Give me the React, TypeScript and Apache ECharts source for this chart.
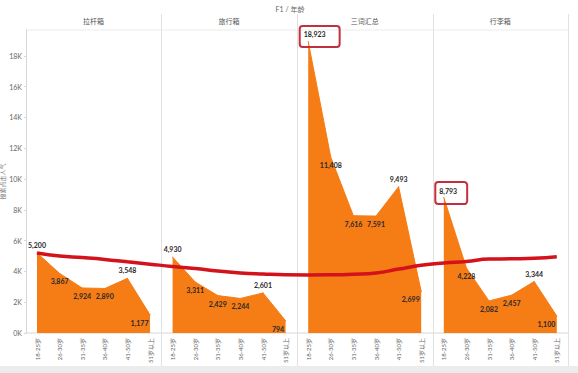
import React, { useEffect, useRef } from "react";
import * as echarts from "echarts";

const ageGroups = ["18-25岁", "26-30岁", "31-35岁", "36-40岁", "41-50岁", "51岁以上"];
const panelNames = ["拉杆箱", "旅行箱", "三词汇总", "行李箱"];
const laganxiang = [5200, 3867, 2924, 2890, 3548, 1177];
const lvxingxiang = [4930, 3311, 2429, 2244, 2601, 794];
const sanciHuizong = [18923, 11408, 7616, 7591, 9493, 2699];
const xinglixiang = [8793, 4228, 2082, 2457, 3344, 1100];
const panelValues = [laganxiang, lvxingxiang, sanciHuizong, xinglixiang];
// smooth red trend line, one value per age group across the four panels
const trendValues = [
  5200, 5000, 4900, 4780, 4620, 4470,
  4320, 4190, 4020, 3900, 3830, 3780,
  3770, 3780, 3820, 3900, 4150, 4400,
  4550, 4650, 4800, 4820, 4850, 4950,
];
const yMaxValue = 19675;
const yInterval = 2000;
const yAxisName = "搜索点击人气";
const chartTitle = "F1 / 年龄";
// [panel, age index] of the values outlined with a red box
const boxedPoints = [[2, 0], [3, 0]];

const W = 578;
const H = 373;
const X0 = 37;
const STEP = 22.6;
const TOP = 30;
const PLOT_H = 303;
const ORANGE = "#F67C15";
const FONT = "Lato, 'Noto Sans CJK SC', sans-serif";

export default function App() {
  const ref = useRef<HTMLDivElement>(null);
  useEffect(() => {
    if (!ref.current) return;
    const chart = echarts.init(ref.current, undefined, { renderer: "svg" });
    const grids: any[] = [];
    const xAxes: any[] = [];
    const yAxes: any[] = [];
    const series: any[] = [];

    panelValues.forEach((vals, p) => {
      grids.push({
        left: X0 + 6 * p * STEP,
        width: 5 * STEP,
        top: TOP,
        height: PLOT_H,
        outerBoundsMode: "none",
        containLabel: false,
      });
      xAxes.push({
        type: "category",
        gridIndex: p,
        data: ageGroups,
        boundaryGap: false,
        axisLine: { show: false },
        axisTick: { show: false },
        axisLabel: {
          rotate: 90,
          interval: 0,
          fontSize: 6,
          color: "#666",
          margin: 5,
          fontFamily: FONT,
        },
      });
      yAxes.push({
        type: "value",
        gridIndex: p,
        min: 0,
        max: yMaxValue,
        interval: yInterval,
        show: p === 0,
        offset: 11,
        name: p === 0 ? yAxisName : "",
        nameLocation: "middle",
        nameGap: 20,
        nameTextStyle: { fontSize: 6, color: "#777", fontFamily: FONT },
        axisLine: { show: true, lineStyle: { color: "#d6d6d6" } },
        axisTick: { show: true, length: 2, lineStyle: { color: "#d6d6d6" } },
        splitLine: { show: false },
        axisLabel: {
          fontSize: 7,
          color: "#666",
          margin: 4,
          showMaxLabel: false,
          fontFamily: FONT,
          formatter: (v: number) => v / 1000 + "K",
        },
      });
      const data = vals.map((v, i) => {
        const prev = i > 0 ? vals[i - 1] : -Infinity;
        const next = i < vals.length - 1 ? vals[i + 1] : -Infinity;
        const isPeak = v >= prev && v >= next;
        const boxed = boxedPoints.some(([bp, bi]) => bp === p && bi === i);
        const label: any = { position: isPeak ? "top" : "bottom" };
        if (i === vals.length - 1) {
          label.position = "left";
          label.distance = 1;
          label.offset = [0, 8];
        }
        if (boxed) {
          Object.assign(label, {
            position: [-8, -15],
            borderColor: "#C2303F",
            borderWidth: 2,
            borderRadius: 3,
            padding: p === 2 ? [4, 14, 10, 4] : [5, 10, 10, 4],
          });
        }
        return { value: v, label };
      });
      series.push({
        type: "line",
        xAxisIndex: p,
        yAxisIndex: p,
        data,
        symbol: "circle",
        symbolSize: 1,
        showSymbol: true,
        itemStyle: { color: ORANGE },
        lineStyle: { color: ORANGE, width: 1 },
        areaStyle: { color: ORANGE, opacity: 1 },
        label: {
          show: true,
          fontSize: 7,
          fontWeight: "bold",
          color: "#2a2a2a",
          distance: 4,
          fontFamily: FONT,
          formatter: (prm: any) => Number(prm.value).toLocaleString("en-US"),
        },
        z: 2,
      });
    });

    // overlay grid for the trend line spanning all panels
    grids.push({
      left: X0,
      width: 23 * STEP,
      top: TOP,
      height: PLOT_H,
      outerBoundsMode: "none",
      containLabel: false,
    });
    xAxes.push({
      type: "category",
      gridIndex: 4,
      data: trendValues.map((_, i) => String(i)),
      boundaryGap: false,
      show: false,
    });
    yAxes.push({
      type: "value",
      gridIndex: 4,
      min: 0,
      max: yMaxValue,
      show: false,
      splitLine: { show: false },
    });
    series.push({
      type: "line",
      xAxisIndex: 4,
      yAxisIndex: 4,
      data: trendValues,
      smooth: true,
      showSymbol: false,
      symbol: "none",
      lineStyle: { color: "#D3121C", width: 3.5 },
      z: 5,
    });

    const graphics: any[] = [];
    graphics.push({
      type: "rect",
      shape: { x: 0, y: 366, width: W, height: H - 366 },
      style: { fill: "#ececec" },
      silent: true,
    });
    graphics.push({
      type: "text",
      x: 290,
      y: 9,
      style: {
        text: chartTitle,
        fontSize: 7,
        fill: "#666",
        align: "center",
        verticalAlign: "middle",
        fontFamily: FONT,
      },
    });
    graphics.push({
      type: "line",
      shape: { x1: X0 - 0.5 * STEP, y1: TOP, x2: X0 + 23.5 * STEP, y2: TOP },
      style: { stroke: "#ececec", lineWidth: 1 },
    });
    graphics.push({
      type: "line",
      shape: { x1: X0 - 0.5 * STEP, y1: TOP + PLOT_H, x2: X0 + 23.5 * STEP, y2: TOP + PLOT_H },
      style: { stroke: "#d6d6d6", lineWidth: 1 },
    });
    for (let p = 1; p <= 4; p++) {
      const x = Math.round(X0 + (6 * p - 0.5) * STEP) + 0.5;
      graphics.push({
        type: "line",
        shape: { x1: x, y1: 14, x2: x, y2: 366 },
        style: { stroke: "#e2e2e2", lineWidth: 1 },
      });
    }
    panelNames.forEach((name, p) => {
      graphics.push({
        type: "text",
        x: X0 + (6 * p + 2.5) * STEP,
        y: 21,
        style: {
          text: name,
          fontSize: 7,
          fill: "#555",
          align: "center",
          verticalAlign: "middle",
          fontFamily: FONT,
        },
      });
    });

    chart.setOption({
      animation: false,
      backgroundColor: "#ffffff",
      grid: grids,
      xAxis: xAxes,
      yAxis: yAxes,
      series,
      graphic: graphics,
    });
    return () => chart.dispose();
  }, []);
  return (
    <div
      ref={ref}
      style={{ position: "absolute", left: 0, top: 0, width: W, height: H }}
    />
  );
}
